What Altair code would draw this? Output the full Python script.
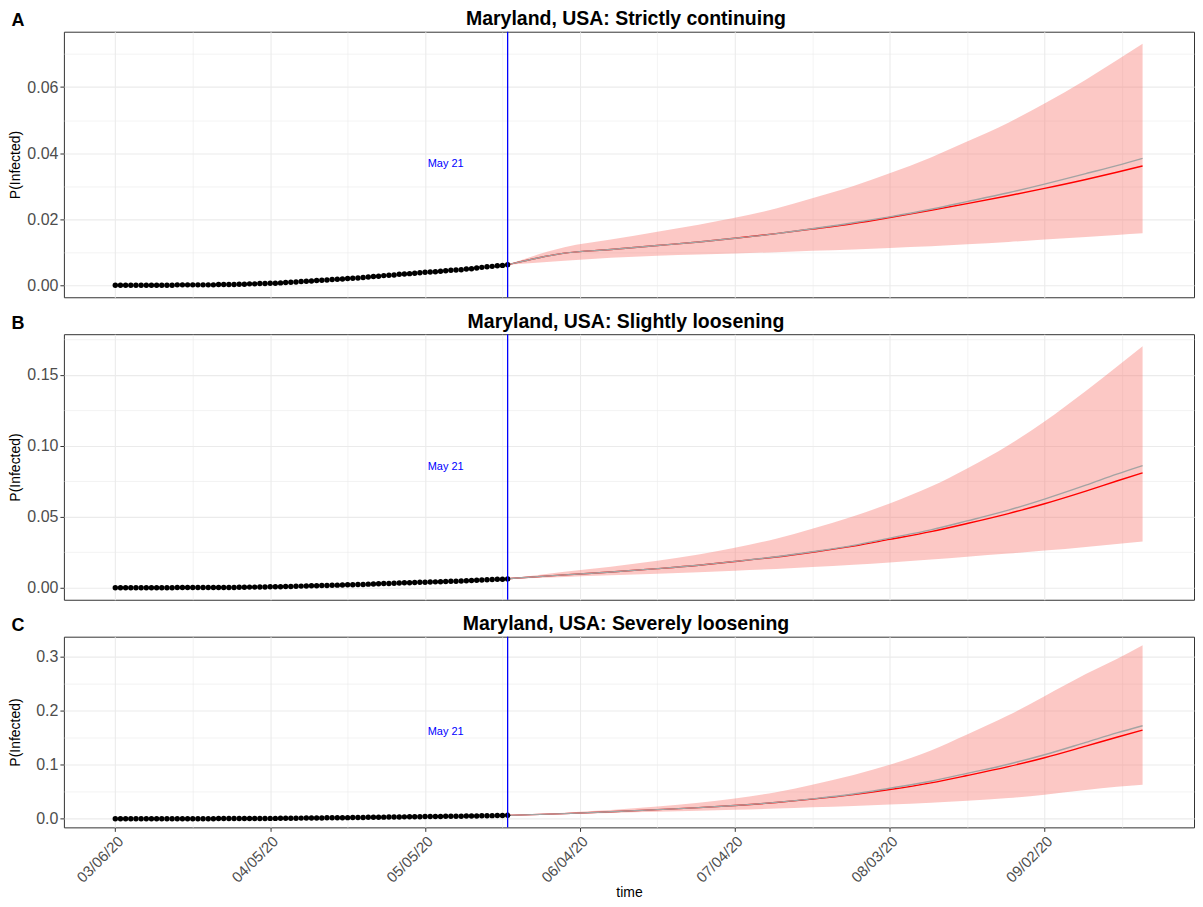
import altair as alt
import pandas as pd

FONT = "Liberation Sans, Arial, Helvetica, sans-serif"

# ---------------- observed data (daily, 2020-03-06 .. 2020-05-21) ----------------
obs_start = "2020-03-06"
obs_values = [
    0.0000, 0.0000, 0.0000, 0.0000, 0.0000, 0.0000, 0.0000, 0.0000, 0.0000, 0.0000,
    0.0000, 0.0000, 0.0001, 0.0001, 0.0001, 0.0001, 0.0001, 0.0001, 0.0001, 0.0001,
    0.0002, 0.0002, 0.0002, 0.0002, 0.0003, 0.0003, 0.0004, 0.0004, 0.0005, 0.0005,
    0.0006, 0.0006, 0.0007, 0.0008, 0.0009, 0.0010, 0.0011, 0.0012, 0.0013, 0.0014,
    0.0015, 0.0016, 0.0017, 0.0018, 0.0019, 0.0020, 0.0021, 0.0022, 0.0023, 0.0025,
    0.0026, 0.0027, 0.0029, 0.0030, 0.0031, 0.0033, 0.0034, 0.0035, 0.0036, 0.0038,
    0.0039, 0.0040, 0.0041, 0.0042, 0.0044, 0.0045, 0.0046, 0.0047, 0.0049, 0.0050,
    0.0052, 0.0054, 0.0056, 0.0057, 0.0059, 0.0060, 0.0062,
]

# ---------------- forecasts (days after 2020-05-21) ----------------
fc_start = "2020-05-21"
fc_days = [0, 11, 20, 29, 37, 44, 52, 59, 67, 74, 82, 89, 97, 104, 112, 118, 123]

A_red = [0.0062, 0.0097, 0.0108, 0.0120, 0.0131, 0.0142, 0.0156, 0.0170, 0.0187, 0.0205,
         0.0227, 0.0247, 0.0271, 0.0293, 0.0320, 0.0342, 0.0361]
A_gray = [0.0062, 0.0097, 0.0108, 0.0120, 0.0131, 0.0142, 0.0156, 0.0171, 0.0189, 0.0207,
          0.0230, 0.0253, 0.0280, 0.0306, 0.0338, 0.0362, 0.0384]
A_lo = [0.0062, 0.0074, 0.0083, 0.0089, 0.0093, 0.0096, 0.0100, 0.0104, 0.0108, 0.0113,
        0.0118, 0.0124, 0.0131, 0.0138, 0.0146, 0.0152, 0.0157]
A_hi = [0.0062, 0.0115, 0.0138, 0.0162, 0.0183, 0.0204, 0.0232, 0.0263, 0.0300, 0.0339,
        0.0387, 0.0435, 0.0492, 0.0550, 0.0622, 0.0681, 0.0731]

B_red = [0.0063, 0.0090, 0.0110, 0.0134, 0.0158, 0.0184, 0.0216, 0.0250, 0.0293, 0.0340,
         0.0395, 0.0452, 0.0522, 0.0591, 0.0680, 0.0751, 0.0809]
B_gray = [0.0063, 0.0090, 0.0110, 0.0134, 0.0158, 0.0185, 0.0218, 0.0253, 0.0298, 0.0349,
          0.0407, 0.0470, 0.0546, 0.0624, 0.0722, 0.0800, 0.0860]
B_lo = [0.0063, 0.0075, 0.0087, 0.0098, 0.0109, 0.0120, 0.0132, 0.0145, 0.0161, 0.0178,
        0.0198, 0.0218, 0.0240, 0.0261, 0.0287, 0.0308, 0.0326]
B_hi = [0.0063, 0.0112, 0.0148, 0.0190, 0.0234, 0.0282, 0.0345, 0.0415, 0.0503, 0.0593,
        0.0712, 0.0840, 0.1003, 0.1170, 0.1385, 0.1555, 0.1700]

C_red = [0.0062, 0.0095, 0.0128, 0.0168, 0.0205, 0.0245, 0.0300, 0.0362, 0.0447, 0.0540,
         0.0665, 0.0800, 0.0965, 0.1130, 0.1345, 0.1510, 0.1642]
C_gray = [0.0062, 0.0095, 0.0128, 0.0168, 0.0205, 0.0246, 0.0302, 0.0368, 0.0457, 0.0565,
          0.0695, 0.0840, 0.1010, 0.1185, 0.1415, 0.1590, 0.1723]
C_lo = [0.0062, 0.0085, 0.0105, 0.0128, 0.0147, 0.0165, 0.0187, 0.0210, 0.0236, 0.0263,
        0.0296, 0.0332, 0.0382, 0.0445, 0.0530, 0.0590, 0.0628]
C_hi = [0.0062, 0.0112, 0.0160, 0.0224, 0.0294, 0.0375, 0.0490, 0.0630, 0.0810, 0.1000,
        0.1265, 0.1560, 0.1915, 0.2270, 0.2680, 0.2960, 0.3212]

titles = ["Maryland, USA: Strictly continuing",
          "Maryland, USA: Slightly loosening",
          "Maryland, USA: Severely loosening"]
letters = ["A", "B", "C"]

vline_date = "2020-05-21"
label_date = "2020-05-09"
label_text = "May 21"

x_major = [(3, 6), (4, 5), (5, 5), (6, 4), (7, 4), (8, 3), (9, 2)]
x_minor = [(3, 21), (4, 20), (5, 20), (6, 19), (7, 19), (8, 18), (9, 17)]

y_major = {"A": [0.0, 0.02, 0.04, 0.06], "B": [0.0, 0.05, 0.10, 0.15], "C": [0.0, 0.1, 0.2, 0.3]}
y_minor = {"A": [0.01, 0.03, 0.05, 0.07], "B": [0.025, 0.075, 0.125, 0.175], "C": [0.05, 0.15, 0.25]}
y_step = {"A": 0.02, "B": 0.05, "C": 0.1}
y_fmt = {"A": ".2f", "B": ".2f", "C": ".1f"}

# ---------------- tables ----------------
obs_dates = pd.date_range(obs_start, periods=len(obs_values), freq="D").strftime("%Y-%m-%d")
obs_df = pd.DataFrame({"date": obs_dates, "value": obs_values})
fc_dates = (pd.Timestamp(fc_start) + pd.to_timedelta(fc_days, unit="D")).strftime("%Y-%m-%d")

GRID = "#EBEBEB"
XMINOR_TEST = "round((datum.value - utc(2020,2,6))/86400000) % 30 != 0"
W = 1132

x_domain = [alt.DateTime(year=2020, month=2, date=25, hours=1, utc=True),
            alt.DateTime(year=2020, month=9, date=30, hours=23, utc=True)]
x_values = [alt.DateTime(year=2020, month=m, date=d, utc=True) for m, d in sorted(x_major + x_minor)]


def make_panel(key, title, red, gray, lo, hi, height, show_x):
    fc_df = pd.DataFrame({"date": fc_dates, "red": red, "gray": gray, "lo": lo, "hi": hi})
    ymax = max(hi)
    ymin = 0.0
    rng = ymax - ymin
    ydom = [ymin - 0.05 * rng, ymax + 0.05 * rng]
    step = y_step[key]
    ytest = f"abs(datum.value/{step} - round(datum.value/{step})) > 0.01"

    if show_x:
        xaxis = alt.Axis(
            values=x_values,
            labelExpr=f"{XMINOR_TEST} ? '' : utcFormat(datum.value, '%m/%d/%y')",
            labelAngle=315, labelAlign="right", labelBaseline="top",
            labelFontSize=15, labelColor="#4D4D4D", labelFont=FONT, labelPadding=2,
            tickColor="#333333", tickSize=4,
            tickOpacity={"condition": {"test": XMINOR_TEST, "value": 0}, "value": 1},
            domain=False, grid=True, gridColor=GRID,
            gridWidth={"condition": {"test": XMINOR_TEST, "value": 0.6}, "value": 1.1},
            title="time", titleFontSize=14, titleFontWeight="normal", titleColor="black",
            titleFont=FONT, titlePadding=0,
        )
    else:
        xaxis = alt.Axis(
            values=x_values, labels=False, ticks=False, domain=False, title=None,
            grid=True, gridColor=GRID,
            gridWidth={"condition": {"test": XMINOR_TEST, "value": 0.6}, "value": 1.1},
        )
    yaxis = alt.Axis(
        values=y_major[key] + y_minor[key],
        labelExpr=f"{ytest} ? '' : format(datum.value, '{y_fmt[key]}')",
        labelFontSize=16, labelColor="#4D4D4D", labelFont=FONT, labelPadding=2,
        tickColor="#333333", tickSize=4,
        tickOpacity={"condition": {"test": ytest, "value": 0}, "value": 1},
        domain=False, grid=True, gridColor=GRID,
        gridWidth={"condition": {"test": ytest, "value": 0.6}, "value": 1.1},
        title="P(Infected)", titleFontSize=14, titleFontWeight="normal", titleColor="black",
        titleFont=FONT, titleX=-48, titleY=height / 2, titleBaseline="middle",
    )
    xs = alt.Scale(type="utc", domain=x_domain)
    ys = alt.Scale(domain=ydom, nice=False, zero=False)

    def X():
        return alt.X("date:T", scale=xs, axis=xaxis)

    def Y(f):
        return alt.Y(f"{f}:Q", scale=ys, axis=yaxis)

    band = alt.Chart(fc_df).mark_area(color="#F8766D", opacity=0.4, interpolate="monotone").encode(
        x=X(), y=Y("lo"), y2="hi:Q")
    red_line = alt.Chart(fc_df).mark_line(color="#FF0000", strokeWidth=1.4, interpolate="monotone").encode(
        x=X(), y=Y("red"))
    gray_line = alt.Chart(fc_df).mark_line(color="#A3A3A3", strokeWidth=1.4, interpolate="monotone").encode(
        x=X(), y=Y("gray"))
    dots = alt.Chart(obs_df).mark_circle(color="black", size=30, opacity=1).encode(x=X(), y=Y("value"))
    vline = alt.Chart(pd.DataFrame({"date": [vline_date]})).mark_rule(
        color="#0000FF", stroke="#0000FF", strokeWidth=1.3, opacity=1).encode(x=X())
    label = alt.Chart(pd.DataFrame({"date": [label_date], "y": [ymax / 2], "t": [label_text]})).mark_text(
        color="#0000FF", fontSize=11, font=FONT).encode(x=X(), y=Y("y"), text="t:N")
    letter = alt.Chart(pd.DataFrame({"t": [letters["ABC".index(key)]]})).mark_text(
        fontSize=18, fontWeight="bold", font=FONT, color="black", align="center", baseline="top"
    ).encode(x=alt.value(-46), y=alt.value(-19.5), text="t:N")
    head = alt.Chart(pd.DataFrame({"t": [title]})).mark_text(
        fontSize=19.5, fontWeight="bold", font=FONT, color="black", align="center", baseline="top"
    ).encode(x=alt.value(W / 2 - 3), y=alt.value(-21.5), text="t:N")

    return alt.layer(band, red_line, gray_line, dots, vline, label, letter, head).properties(
        width=W, height=height,
    )


pA = make_panel("A", titles[0], A_red, A_gray, A_lo, A_hi, 266, False)
pB = make_panel("B", titles[1], B_red, B_gray, B_lo, B_hi, 266, False)
pC = make_panel("C", titles[2], C_red, C_gray, C_lo, C_hi, 191, True)

chart = alt.vconcat(pA, pB, pC, spacing=12).properties(
    padding={"left": 0, "top": 0, "right": 0, "bottom": 0},
    background="white",
).configure_view(stroke="#333333", strokeWidth=1)

chart.save("out.html", embed_options={"renderer": "svg", "actions": False})
